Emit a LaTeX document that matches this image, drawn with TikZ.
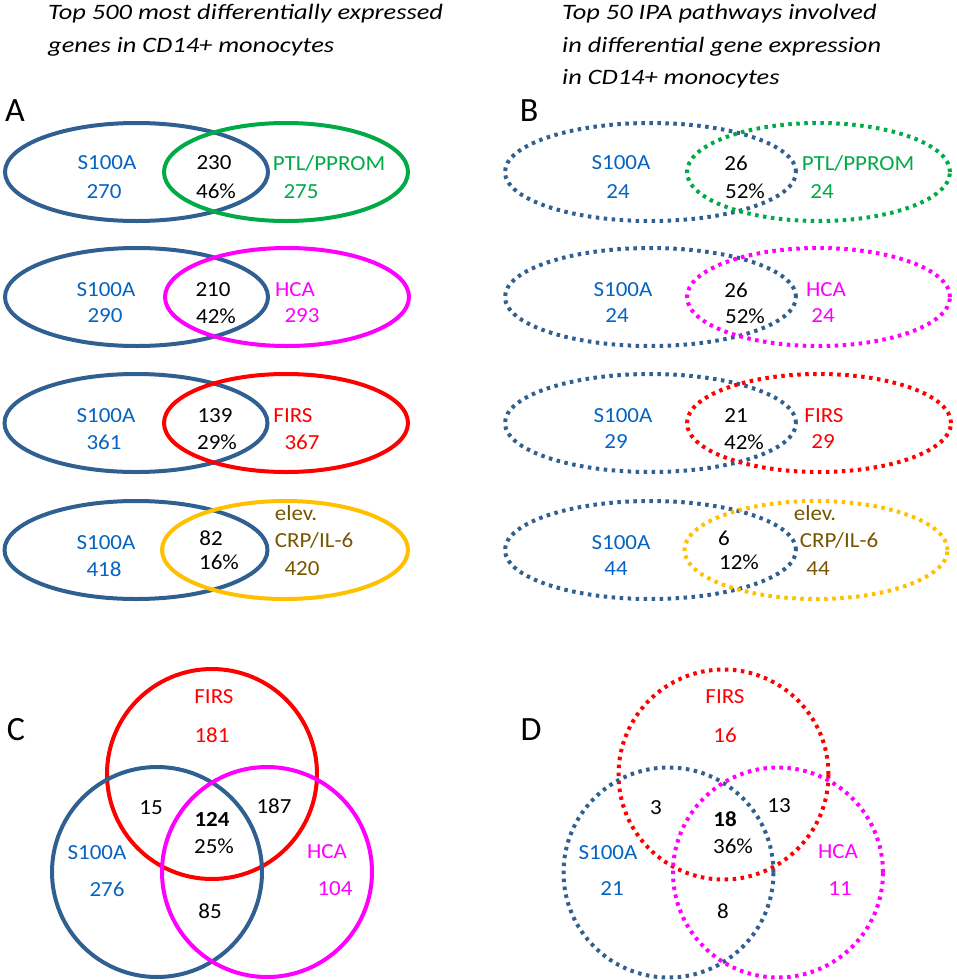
\documentclass[tikz,border=0pt]{standalone}
\usepackage{fontspec}
\setmainfont{Carlito}
\newfontfamily\ttlfont{Carlito}[FakeStretch=1.2]
\newfontfamily\txtfont{Carlito}[FakeStretch=1.07]
\definecolor{vblue}{RGB}{47,96,145}
\definecolor{tblue}{RGB}{5,99,193}
\definecolor{vgreen}{RGB}{0,170,70}
\definecolor{vmag}{RGB}{255,0,255}
\definecolor{vred}{RGB}{255,0,0}
\definecolor{vgold}{RGB}{255,192,0}
\definecolor{tbrown}{RGB}{120,86,0}
\tikzset{
  txt/.style={font=\txtfont\fontsize{21.5}{25}\selectfont, inner sep=0pt},
  ttl/.style={font=\ttlfont\itshape\fontsize{22}{26}\selectfont, inner sep=0pt, anchor=base west},
  panel/.style={font=\fontsize{34}{38}\selectfont, inner sep=0pt},
  solidline/.style={line width=4pt},
  dotline/.style={line width=4pt, dash pattern=on 3.5pt off 4.5pt}
}
\begin{document}
\begin{tikzpicture}[x=1pt,y=-1pt]
\useasboundingbox (0,0) rectangle (957,980);
\node [ttl] (tl1) at (48,19.5) {Top 500 most differentially expressed};
\node [ttl] (tl2) at (48,52) {genes in CD14+ monocytes};
\node [ttl] (tr1) at (562,19.5) {Top 50 IPA pathways involved};
\node [ttl] (tr2) at (562,52) {in differential gene expression};
\node [ttl] (tr3) at (562,84.5) {in CD14+ monocytes};
\node [panel] (pa) at (15,111) {A};
\node [panel] (pb) at (529,111) {B};
\node [panel] (pc) at (16,730) {C};
\node [panel] (pd) at (531,730) {D};
% panel A
\draw [solidline,vblue] (136.5,172) ellipse [x radius=131.5pt, y radius=49pt];
\draw [solidline,vgreen] (286,172) ellipse [x radius=122pt, y radius=49pt];
\draw [solidline,vblue] (136.5,297) ellipse [x radius=131.5pt, y radius=49pt];
\draw [solidline,vmag] (287,297) ellipse [x radius=122pt, y radius=49pt];
\draw [solidline,vblue] (136,423) ellipse [x radius=131.5pt, y radius=49pt];
\draw [solidline,vred] (286,423) ellipse [x radius=122pt, y radius=49pt];
\draw [solidline,vblue] (136,550) ellipse [x radius=131.5pt, y radius=49pt];
\draw [solidline,vgold] (285,550) ellipse [x radius=123pt, y radius=49pt];
\node [txt,tblue] (a1s) at (107,163) {S100A};
\node [txt,tblue] (a1n) at (104,192) {270};
\node [txt] (a1c) at (214,163) {230};
\node [txt] (a1p) at (216,191) {46\%};
\node [txt,vgreen] (a1g) at (329,163) {PTL/PPROM};
\node [txt,vgreen] (a1m) at (301,192) {275};
\node [txt,tblue] (a2s) at (106,290) {S100A};
\node [txt,tblue] (a2n) at (105,316) {290};
\node [txt] (a2c) at (213,290) {210};
\node [txt] (a2p) at (216,316) {42\%};
\node [txt,vmag] (a2g) at (295,290) {HCA};
\node [txt,vmag] (a2m) at (302,316) {293};
\node [txt,tblue] (a3s) at (106,416) {S100A};
\node [txt,tblue] (a3n) at (104,442) {361};
\node [txt] (a3c) at (215,416) {139};
\node [txt] (a3p) at (217,442) {29\%};
\node [txt,vred] (a3g) at (293,416) {FIRS};
\node [txt,vred] (a3m) at (302,442) {367};
\node [txt,tblue] (a4s) at (106,543) {S100A};
\node [txt,tblue] (a4n) at (104,569) {418};
\node [txt] (a4c) at (211,538) {82};
\node [txt] (a4p) at (219,562) {16\%};
\node [txt,tbrown] (a4e) at (296,513) {elev.};
\node [txt,tbrown] (a4g) at (314,540) {CRP/IL-6};
\node [txt,tbrown] (a4m) at (302,569) {420};
% panel B
\draw [dotline,vblue] (650.5,172) ellipse [x radius=145.5pt, y radius=49pt];
\draw [dotline,vgreen] (818.5,172) ellipse [x radius=131.5pt, y radius=49pt];
\draw [dotline,vblue] (650.5,297) ellipse [x radius=145.5pt, y radius=49pt];
\draw [dotline,vmag] (818.5,297) ellipse [x radius=131.5pt, y radius=49pt];
\draw [dotline,vblue] (650.5,423) ellipse [x radius=145.5pt, y radius=49pt];
\draw [dotline,vred] (819,423) ellipse [x radius=132pt, y radius=49pt];
\draw [dotline,vblue] (650.5,550) ellipse [x radius=145.5pt, y radius=49pt];
\draw [dotline,vgold] (816,550) ellipse [x radius=131.5pt, y radius=49pt];
\node [txt,tblue] (b1s) at (621,163) {S100A};
\node [txt,tblue] (b1n) at (618,192) {24};
\node [txt] (b1c) at (736,163) {26};
\node [txt] (b1p) at (745,191) {52\%};
\node [txt,vgreen] (b1g) at (858,163) {PTL/PPROM};
\node [txt,vgreen] (b1m) at (822,192) {24};
\node [txt,tblue] (b2s) at (623,290) {S100A};
\node [txt,tblue] (b2n) at (617,316) {24};
\node [txt] (b2c) at (736,290) {26};
\node [txt] (b2p) at (745,316) {52\%};
\node [txt,vmag] (b2g) at (826,290) {HCA};
\node [txt,vmag] (b2m) at (823,316) {24};
\node [txt,tblue] (b3s) at (623,416) {S100A};
\node [txt,tblue] (b3n) at (616,442) {29};
\node [txt] (b3c) at (736,416) {21};
\node [txt] (b3p) at (744,442) {42\%};
\node [txt,vred] (b3g) at (824,416) {FIRS};
\node [txt,vred] (b3m) at (823,442) {29};
\node [txt,tblue] (b4s) at (621,543) {S100A};
\node [txt,tblue] (b4n) at (616,569) {44};
\node [txt] (b4c) at (724,538) {6};
\node [txt] (b4p) at (739,562) {12\%};
\node [txt,tbrown] (b4e) at (815,513) {elev.};
\node [txt,tbrown] (b4g) at (839,540) {CRP/IL-6};
\node [txt,tbrown] (b4m) at (818,569) {44};
% panel C
\draw [solidline,vred] (212,774) circle [radius=105pt];
\draw [solidline,vblue] (157,872) circle [radius=105pt];
\draw [solidline,vmag] (267,872) circle [radius=105pt];
\node [txt,vred] (cf) at (214,697) {FIRS};
\node [txt,vred] (cfn) at (212,735) {181};
\node [txt] (csf) at (151,808) {15};
\node [txt] (cfh) at (274,806) {187};
\node [txt] (call) at (212,819) {\textbf{124}};
\node [txt] (cpc) at (214,846) {25\%};
\node [txt,tblue] (cs) at (97,853) {S100A};
\node [txt,tblue] (csn) at (107,889) {276};
\node [txt,vmag] (ch) at (327,852) {HCA};
\node [txt,vmag] (chn) at (335,889) {104};
\node [txt] (csh) at (210,911) {85};
% panel D
\draw [dotline,vred] (723.5,774.5) circle [radius=105pt];
\draw [dotline,vblue] (668.5,872.5) circle [radius=105pt];
\draw [dotline,vmag] (778,872.5) circle [radius=105pt];
\node [txt,vred] (df) at (725,697) {FIRS};
\node [txt,vred] (dfn) at (725,735) {16};
\node [txt] (dsf) at (656,808) {3};
\node [txt] (dfh) at (779,806) {13};
\node [txt] (dall) at (725,819) {\textbf{18}};
\node [txt] (dpc) at (733,846) {36\%};
\node [txt,tblue] (ds) at (608,853) {S100A};
\node [txt,tblue] (dsn) at (612,889) {21};
\node [txt,vmag] (dh) at (838,852) {HCA};
\node [txt,vmag] (dhn) at (840,889) {11};
\node [txt] (dsh) at (723,911) {8};
\end{tikzpicture}
\end{document}
